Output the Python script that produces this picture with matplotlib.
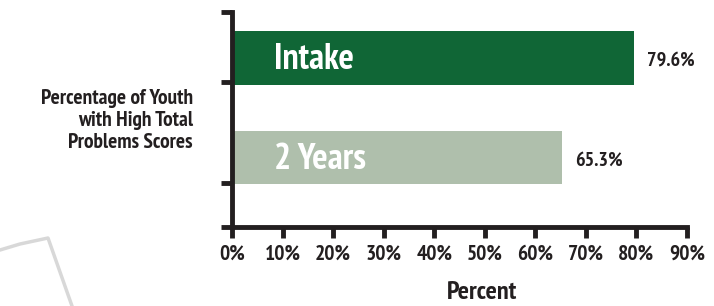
import matplotlib
matplotlib.use("Agg")
import matplotlib.pyplot as plt
from matplotlib.lines import Line2D

categories = ["Intake", "2 Years"]
values = [79.6, 65.3]
value_labels = ["79.6%", "65.3%"]
bar_colors = ["#106636", "#afbfac"]
xticks = [0, 10, 20, 30, 40, 50, 60, 70, 80, 90]
xtick_labels = [f"{t}%" for t in xticks]
ylabel_text = "Percentage of Youth\nwith High Total\nProblems Scores"
xlabel_text = "Percent"

FONT = ["PT Sans Narrow", "DejaVu Sans"]
plt.rcParams['font.family'] = FONT
plt.rcParams['font.weight'] = 'bold'
INK = "#231f20"

fig = plt.figure(figsize=(7.14, 3.06), dpi=100)
ax = fig.add_axes([0.325, 0.258, 0.637, 0.703])

ypos = [1, 0]
ax.barh(ypos, values, height=0.54, color=bar_colors, zorder=2)
for y, v, cat, lab in zip(ypos, values, categories, value_labels):
    ax.text(8.3, y - 0.02, cat, color="white", fontsize=26, fontweight="bold",
            va="center", ha="left", zorder=3)
    ax.text(v + 2.5, y - 0.03, lab, color=INK, fontsize=14.5,
            fontweight="bold", va="center", ha="left")

ax.set_xlim(0, 90)
ax.set_ylim(-0.698, 1.462)
ax.set_xticks(xticks)
ax.set_xticklabels(xtick_labels, fontsize=15.5, fontweight="bold", color=INK)
ax.set_yticks([-0.698, -0.256, 0.759, 1.462])
ax.set_yticklabels([])
ax.tick_params(axis="both", length=8, width=3.5, color=INK)
ax.tick_params(axis="x", pad=5)
for s in ["top", "right"]:
    ax.spines[s].set_visible(False)
for s in ["left", "bottom"]:
    ax.spines[s].set_linewidth(3.5)
    ax.spines[s].set_color(INK)

ax.set_xlabel(xlabel_text, fontsize=19, fontweight="bold", color=INK)
ax.xaxis.set_label_coords((482 - 232) / (687 - 232), -(292 - 227) / (227 - 12), transform=ax.transAxes)
ax.xaxis.label.set_va("center")
fig.text(193 / 714, 1 - 121 / 306, ylabel_text, ha="right", va="center",
         fontsize=15.5, fontweight="bold", color=INK, linespacing=1.2)

# faint page-curl decoration at bottom left
fig.add_artist(Line2D([0 / 714, 20 / 714, 48 / 714, 72 / 714],
                      [1 - 250 / 306, 1 - 244 / 306, 1 - 238 / 306, 1 - 306 / 306],
                      transform=fig.transFigure, color="#c8c8c8", lw=2.5, alpha=0.7))

fig.savefig("out.png", dpi=100)
